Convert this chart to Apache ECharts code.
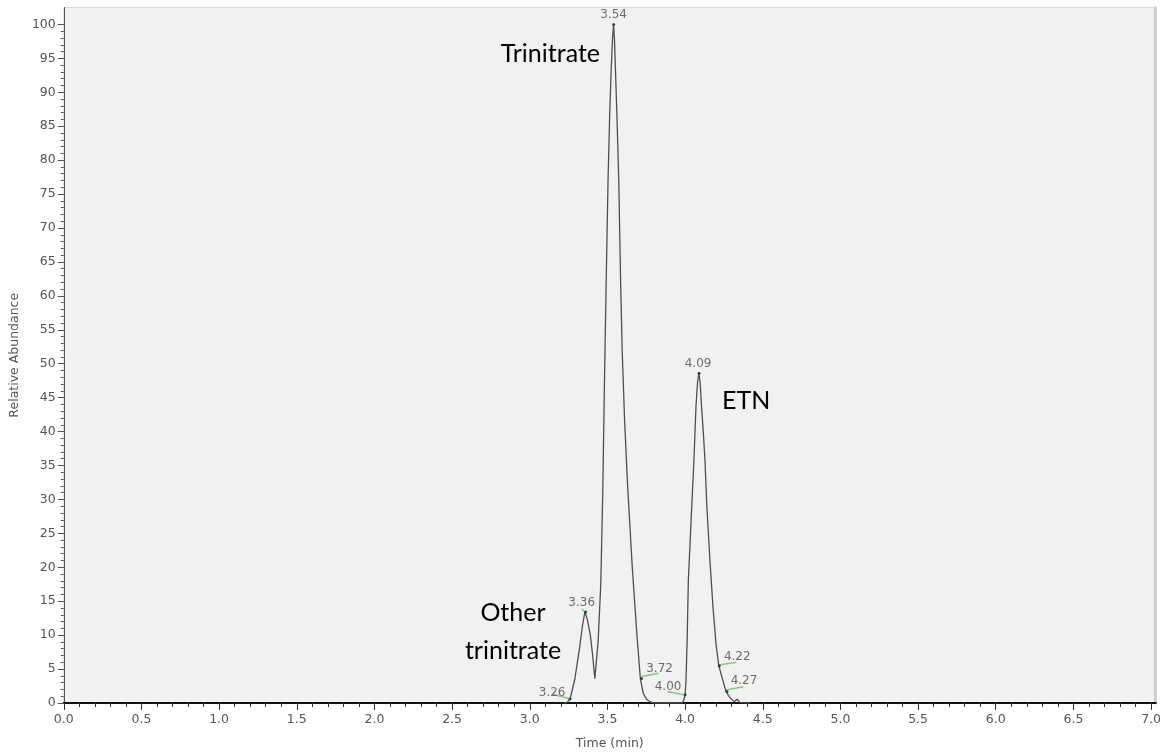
<!DOCTYPE html>
<html>
<head>
<meta charset="utf-8">
<script src="https://cdn.jsdelivr.net/npm/echarts@6/dist/echarts.min.js"></script>
<style>
  html, body { margin: 0; padding: 0; background: #ffffff; }
  #chart { width: 1164px; height: 755px; }
</style>
</head>
<body>
<div id="chart"></div>
<script>
// Chromatogram trace: retention time (min) and relative abundance (%)
const timeMin = [3.22, 3.24, 3.26, 3.29, 3.32, 3.34, 3.355, 3.37, 3.39, 3.405, 3.419,
  3.44, 3.457, 3.47, 3.48, 3.492, 3.504, 3.515, 3.525, 3.533, 3.54, 3.546, 3.551,
  3.562, 3.573, 3.585, 3.595, 3.61, 3.63, 3.66, 3.69, 3.712, 3.731, 3.75, 3.767,
  3.785, 3.80, 3.85, 3.90, 3.95, 3.98, 3.99, 4.00, 4.006, 4.013, 4.021, 4.04,
  4.057, 4.07, 4.08, 4.089, 4.097, 4.106, 4.117, 4.128, 4.14, 4.16, 4.18, 4.20,
  4.217, 4.24, 4.263, 4.28, 4.292, 4.316, 4.335, 4.352, 4.38, 4.411, 4.42];
const abundance = [0, 0.1, 0.6, 3.5, 8, 11.5, 13.4, 12.4, 10, 7, 3.6,
  9, 17.4, 31, 46, 62, 77, 87, 93.8, 98, 100, 97.5, 93.8,
  86, 77, 62, 52, 42, 32, 20, 10, 3.6, 1.4, 0.6, 0.3,
  0.1, 0, 0, 0, 0, 0, 0.3, 1.2, 3.4, 9, 18.1, 27.5,
  35.8, 43.7, 47.2, 48.6, 47.2, 43.7, 40, 35.8, 29, 21, 14, 8.5,
  5.5, 3.6, 1.7, 1.1, 0.7, 0.2, 0.55, 0.1, 0.05, 0, 0];

// Labelled peak / integration points
const peakTimes = [3.26, 3.36, 3.54, 3.72, 4.00, 4.09, 4.22, 4.27];
const peakValues = [0.6, 13.4, 100, 3.6, 1.2, 48.6, 5.5, 1.7];

// Integration baseline segments: [t1, v1, t2, v2]
const baselineSegments = [
  [3.15, 1.3, 3.26, 0.6],
  [3.335, 13.9, 3.355, 13.4],
  [3.72, 3.9, 3.83, 4.4],
  [3.887, 1.7, 3.99, 1.2],
  [4.22, 5.6, 4.33, 6.0],
  [4.263, 1.9, 4.375, 2.4]
];

// Axis ticks
const xTicks = [0, 0.5, 1, 1.5, 2, 2.5, 3, 3.5, 4, 4.5, 5, 5.5, 6, 6.5, 7];
const yTicks = [0, 5, 10, 15, 20, 25, 30, 35, 40, 45, 50, 55, 60, 65, 70, 75, 80, 85, 90, 95, 100];

// Compound annotations
const annotations = ['Trinitrate', 'ETN', 'Other', 'trinitrate'];

// ---- layout helpers ----
const xMinor = [];
for (let i = 0; i <= 70; i++) xMinor.push(i / 10);
const yMinor = [];
for (let i = 0; i <= 100; i++) yMinor.push(i);

// label offsets (px) from each labelled point
const labelOffsets = [[-18, -6], [-4, -9], [0, -10], [18, -10], [-17, -8], [-1, -9], [18, -9], [17, -11]];

const tickFont = { fontFamily: 'DejaVu Sans', fontSize: 12.5, color: '#555' };
const X_MAX = 7.03, Y_MAX = 102.5;

const chart = echarts.init(document.getElementById('chart'), null, { renderer: 'canvas' });

const trace = timeMin.map((t, i) => [t, abundance[i]]);
const peaks = peakTimes.map((t, i) => ({
  value: [t, peakValues[i]],
  label: { offset: labelOffsets[i] }
}));
const segs = baselineSegments.map(s => ({ coords: [[s[0], s[1]], [s[2], s[3]]] }));

chart.setOption({
  animation: false,
  backgroundColor: '#ffffff',
  grid: {
    left: 59, right: 7, top: 7.5, bottom: 52,
    show: true, backgroundColor: '#f1f1f1', borderColor: '#dadada', borderWidth: 1
  },
  xAxis: [
    {
      type: 'value', min: 0, max: X_MAX, position: 'bottom',
      name: 'Time (min)', nameLocation: 'middle', nameGap: 34,
      nameTextStyle: Object.assign({}, tickFont),
      axisLine: { show: true, lineStyle: { color: '#111', width: 2 } },
      axisTick: { show: true, customValues: xTicks, length: 7, lineStyle: { color: '#333', width: 1 } },
      axisLabel: Object.assign({ show: true, customValues: xTicks, margin: 10,
        formatter: v => v.toFixed(1) }, tickFont),
      splitLine: { show: false }
    },
    {
      type: 'value', min: 0, max: X_MAX, position: 'bottom', offset: 0,
      axisLine: { show: false },
      axisTick: { show: true, customValues: xMinor, length: 4, lineStyle: { color: '#333', width: 1 } },
      axisLabel: { show: false },
      splitLine: { show: false }
    }
  ],
  yAxis: [
    {
      type: 'value', min: 0, max: Y_MAX, position: 'left',
      name: 'Relative Abundance', nameLocation: 'middle', nameGap: 36,
      nameTextStyle: Object.assign({}, tickFont),
      axisLine: { show: true, lineStyle: { color: '#555', width: 1 } },
      axisTick: { show: true, customValues: yTicks, length: 6, lineStyle: { color: '#555', width: 1 } },
      axisLabel: Object.assign({ show: true, customValues: yTicks, margin: 8 }, tickFont),
      splitLine: { show: false }
    },
    {
      type: 'value', min: 0, max: Y_MAX, position: 'left', offset: 0,
      axisLine: { show: false },
      axisTick: { show: true, customValues: yMinor, length: 3, lineStyle: { color: '#555', width: 1 } },
      axisLabel: { show: false },
      splitLine: { show: false }
    },
    {
      type: 'value', min: 0, max: Y_MAX, position: 'right', offset: 0,
      axisLine: { show: true, lineStyle: { color: '#d0d0d0', width: 3 } },
      axisTick: { show: false },
      axisLabel: { show: false },
      splitLine: { show: false }
    }
  ],
  series: [
    {
      type: 'line', xAxisIndex: 0, yAxisIndex: 0,
      data: trace, showSymbol: false, symbol: 'none',
      lineStyle: { color: '#4f4f4f', width: 1.3 }, z: 3
    },
    {
      type: 'lines', coordinateSystem: 'cartesian2d', xAxisIndex: 0, yAxisIndex: 0,
      data: segs, lineStyle: { color: '#7ccf7c', width: 1.5, opacity: 1 }, z: 4
    },
    {
      type: 'scatter', xAxisIndex: 0, yAxisIndex: 0,
      data: peaks, symbolSize: 3, itemStyle: { color: '#222' }, z: 5,
      label: {
        show: true, position: 'inside', align: 'center', verticalAlign: 'middle',
        formatter: p => p.value[0].toFixed(2),
        fontFamily: 'DejaVu Sans', fontSize: 12, color: '#4a4a4a'
      }
    }
  ],
  graphic: [
    { type: 'text', z: 10, style: { text: annotations[0], x: 600, y: 54, textAlign: 'right', verticalAlign: 'middle', font: '25px Lato', fill: '#000' } },
    { type: 'text', z: 10, style: { text: annotations[1], x: 722, y: 401, textAlign: 'left', verticalAlign: 'middle', font: '25px Lato', fill: '#000' } },
    { type: 'text', z: 10, style: { text: annotations[2], x: 513, y: 613, textAlign: 'center', verticalAlign: 'middle', font: '25px Lato', fill: '#000' } },
    { type: 'text', z: 10, style: { text: annotations[3], x: 513, y: 651, textAlign: 'center', verticalAlign: 'middle', font: '25px Lato', fill: '#000' } }
  ]
});
</script>
</body>
</html>
